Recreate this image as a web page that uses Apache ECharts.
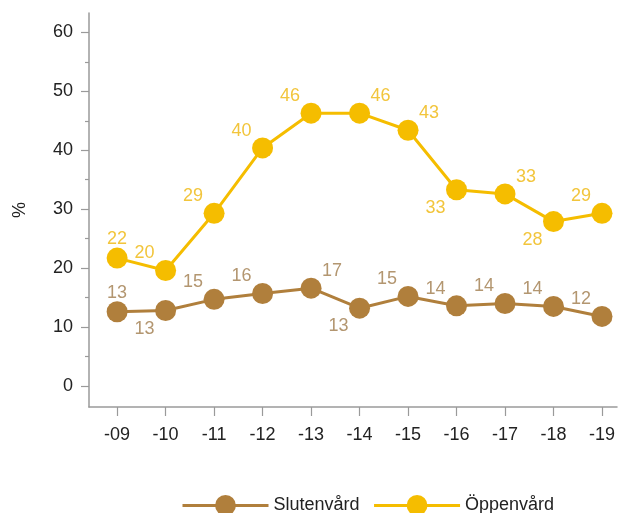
<!DOCTYPE html>
<html>
<head>
<meta charset="utf-8">
<script src="https://cdn.jsdelivr.net/npm/echarts@6/dist/echarts.min.js"></script>
<style>
  html, body { margin: 0; padding: 0; background: #fff; }
  #chart { width: 618px; height: 513px; }
</style>
</head>
<body>
<div id="chart"></div>
<script>
// Years shown along the x axis
const categories = ['-09', '-10', '-11', '-12', '-13', '-14', '-15', '-16', '-17', '-18', '-19'];

// Share in percent per year
const slutenvard = [12.6, 12.8, 14.7, 15.7, 16.6, 13.2, 15.2, 13.6, 14.0, 13.5, 11.8];
const oppenvard  = [21.7, 19.6, 29.3, 40.4, 46.3, 46.3, 43.4, 33.3, 32.6, 27.9, 29.3];

// Y axis tick labels
const yTicks = [0, 10, 20, 30, 40, 50, 60];
const yMinorTicks = [5, 15, 25, 35, 45, 55];

// Where each value label sits around its point
const slutenPlace = ['t', 'bl', 'tl', 'tl', 'tr', 'bl', 'tl', 'tl', 'tl', 'tl', 'tl'];
const oppenPlace  = ['t', 'tl', 'tl', 'tl', 'tl', 'tr', 'tr', 'bl', 'tr', 'bl', 'tl'];

const OFFSETS = { t: [0, -19], tl: [-21, -17], tr: [21, -17], bl: [-21, 18] };

const FONT = 'Liberation Sans, Arial, sans-serif';
const BROWN = '#B07F3C';
const YELLOW = '#F5BD00';

function buildSeries(name, values, places, color, labelColor) {
  return {
    name: name,
    type: 'line',
    xAxisIndex: 0,
    yAxisIndex: 0,
    symbol: 'circle',
    symbolSize: 21,
    lineStyle: { color: color, width: 3 },
    itemStyle: { color: color },
    data: values.map((v, i) => ({
      value: [i, v],
      label: {
        show: true,
        position: 'inside',
        offset: OFFSETS[places[i]],
        formatter: (p) => String(Math.round(p.value[1])),
        color: labelColor,
        fontSize: 18,
        fontFamily: FONT
      }
    })),
    emphasis: { disabled: true },
    animation: false
  };
}

const chart = echarts.init(document.getElementById('chart'), null, { renderer: 'canvas' });

const axisGray = '#9a9a9a';

chart.setOption({
  backgroundColor: '#ffffff',
  animation: false,
  grid: { left: 89, right: 0, top: 13, bottom: 106, containLabel: false },
  legend: {
    left: 176,
    top: 490,
    itemWidth: 86,
    itemHeight: 26,
    itemGap: 13,
    lineStyle: { width: 3 },
    textStyle: { fontFamily: FONT, fontSize: 18, color: '#222' },
    data: ['Slutenvård', 'Öppenvård']
  },
  xAxis: {
    type: 'value',
    min: -0.58,
    max: 10.31,
    splitLine: { show: false },
    axisLine: { show: true, onZero: false, lineStyle: { color: axisGray, width: 1.5 } },
    axisTick: {
      show: true,
      inside: false,
      length: 9,
      customValues: categories.map((_, i) => i),
      lineStyle: { color: axisGray, width: 1.2 }
    },
    axisLabel: {
      customValues: categories.map((_, i) => i),
      formatter: (v) => categories[Math.round(v)],
      margin: 19,
      fontFamily: FONT,
      fontSize: 18,
      color: '#222'
    }
  },
  yAxis: [
    {
      type: 'value',
      min: -3.57,
      max: 63.3,
      name: '%',
      nameLocation: 'middle',
      nameRotate: 90,
      nameGap: 60,
      nameTextStyle: { fontFamily: FONT, fontSize: 18, color: '#222' },
      splitLine: { show: false },
      axisLine: { show: true, onZero: false, lineStyle: { color: axisGray, width: 1.5 } },
      axisTick: {
        show: true,
        length: 8,
        customValues: yTicks,
        lineStyle: { color: axisGray, width: 1.2 }
      },
      axisLabel: {
        customValues: yTicks,
        margin: 16,
        fontFamily: FONT,
        fontSize: 18,
        color: '#222'
      }
    },
    {
      // minor ticks between the labelled values
      type: 'value',
      position: 'left',
      offset: 0,
      min: -3.57,
      max: 63.3,
      splitLine: { show: false },
      axisLine: { show: false, onZero: false },
      axisLabel: { show: false },
      axisTick: {
        show: true,
        length: 4,
        customValues: yMinorTicks,
        lineStyle: { color: axisGray, width: 1.2 }
      }
    }
  ],
  series: [
    buildSeries('Slutenvård', slutenvard, slutenPlace, BROWN, '#B39670'),
    buildSeries('Öppenvård', oppenvard, oppenPlace, YELLOW, '#F2C53C')
  ]
});
</script>
</body>
</html>
